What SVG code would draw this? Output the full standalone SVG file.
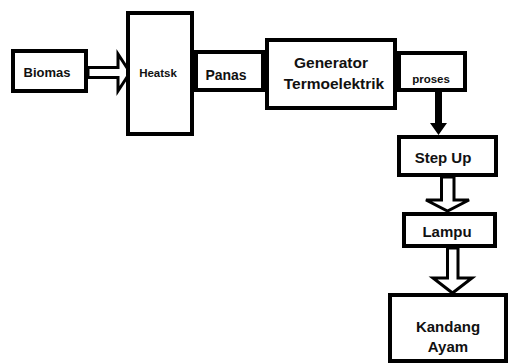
<svg xmlns="http://www.w3.org/2000/svg" width="509" height="363" viewBox="0 0 509 363">
<style>
.box{fill:#fff;stroke:#000;stroke-width:4}
.t{font-family:"Liberation Sans",Arial,sans-serif;font-weight:bold;fill:#111;text-anchor:middle}
.ha{fill:#fff;stroke:#000;stroke-width:3;stroke-linejoin:miter}
</style>
<rect width="509" height="363" fill="#fff"/>
<g id="connectors">
<polygon class="ha" points="88,67.5 118,67.5 118,54 130,72.5 118,91 118,77.5 88,77.5"/>
<polygon points="435,92 442,92 442,123 447,123 438.5,135 430,123 435,123" fill="#000"/>
<polygon class="ha" points="441.5,177 454,177 454,200 469,200 447.5,211 426,200 441.5,200"/>
<polygon class="ha" points="447.5,248 458,248 458,278 472,278 452.5,293 433,278 447.5,278"/>
</g>
<g id="panas"><rect class="box" x="196" y="52" width="67" height="38"/><text class="t" x="226" y="80" font-size="14">Panas</text></g>
<g id="biomas"><rect class="box" x="13" y="51" width="73" height="40"/><text class="t" x="47" y="77" font-size="13">Biomas</text></g>
<g id="heatsk"><rect class="box" x="128" y="13" width="64" height="121"/><text class="t" x="158" y="77" font-size="11.5">Heatsk</text></g>
<g id="generator"><rect class="box" x="267" y="40" width="128" height="68"/><text class="t" x="331" y="68" font-size="15.5">Generator</text><text class="t" x="334" y="89" font-size="15.5">Termoelektrik</text></g>
<g id="proses"><rect class="box" x="399" y="53" width="66" height="37"/><text class="t" x="431" y="83" font-size="11.5">proses</text></g>
<g id="stepup"><rect class="box" x="399" y="137" width="97" height="38"/><text class="t" x="443" y="163" font-size="15">Step Up</text></g>
<g id="lampu"><rect class="box" x="404" y="214" width="91" height="32"/><text class="t" x="447" y="237" font-size="15">Lampu</text></g>
<g id="kandang"><rect class="box" x="390" y="295" width="116" height="66"/><text class="t" x="448" y="332" font-size="15">Kandang</text><text class="t" x="448" y="352" font-size="15">Ayam</text></g>
</svg>
